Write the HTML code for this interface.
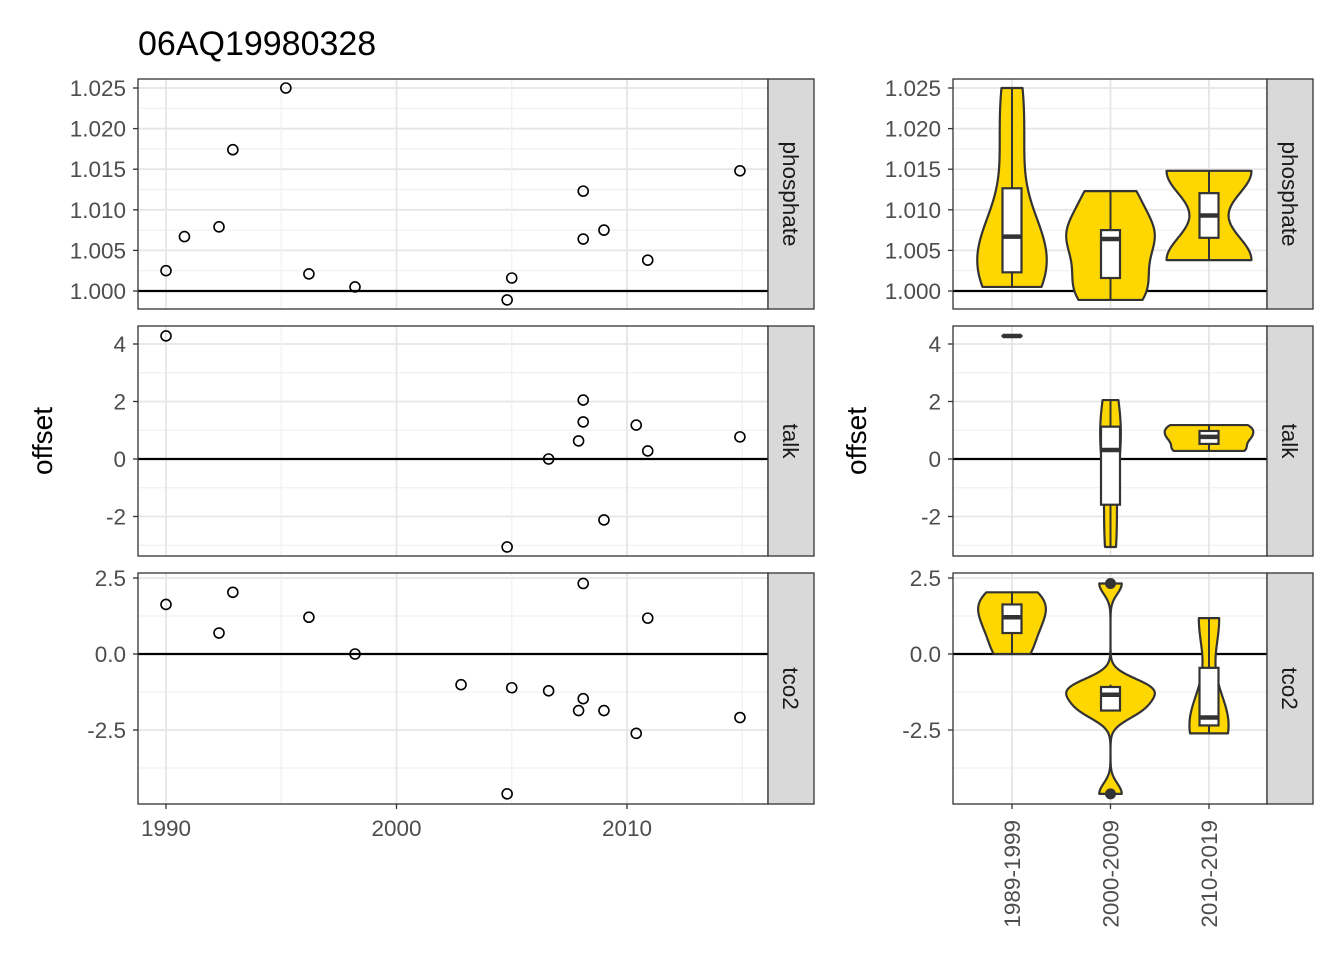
<!DOCTYPE html>
<html><head><meta charset="utf-8"><style>
html,body{margin:0;padding:0;background:#fff;}
svg text{font-family:"Liberation Sans",sans-serif;}
</style></head><body>
<svg id="chart" width="1344" height="960" viewBox="0 0 1344 960" xmlns="http://www.w3.org/2000/svg">
<text x="138" y="55" font-size="34" fill="#000">06AQ19980328</text>
<text transform="translate(52,441) rotate(-90)" text-anchor="middle" font-size="28" fill="#000">offset</text>
<text transform="translate(866,441) rotate(-90)" text-anchor="middle" font-size="28" fill="#000">offset</text>
</svg>
<script>
const phYears=[1990.0,1990.8,1992.3,1992.9,1995.2,1996.2,1998.2,2004.8,2005.0,2008.1,2008.1,2009.0,2010.9,2014.9];
const phVals=[1.0025,1.0067,1.0079,1.0174,1.025,1.0021,1.0005,0.9989,1.0016,1.0123,1.0064,1.0075,1.0038,1.0148];
const taYears=[1990.0,2008.1,2008.1,2007.9,2010.4,2006.6,2010.9,2014.9,2009.0,2004.8];
const taVals=[4.28,2.05,1.29,0.63,1.18,0.0,0.28,0.77,-2.12,-3.06];
const tcYears=[1990.0,1992.9,1992.3,1996.2,1998.2,2002.8,2005.0,2006.6,2008.1,2008.1,2007.9,2009.0,2010.9,2010.4,2014.9,2004.8];
const tcVals=[1.63,2.03,0.69,1.21,0.0,-1.01,-1.11,-1.21,2.32,-1.47,-1.86,-1.86,1.18,-2.61,-2.09,-4.6];
const decades=["1989-1999","2000-2009","2010-2019"];
const xTicks=[1990,2000,2010];
const phTicks=[1.000,1.005,1.010,1.015,1.020,1.025];
const phLabels=["1.000","1.005","1.010","1.015","1.020","1.025"];
const taTicks=[-2,0,2,4];
const taLabels=["-2","0","2","4"];
const tcTicks=[-2.5,0,2.5];
const tcLabels=["-2.5","0.0","2.5"];

const svg=document.getElementById('chart');
const NS='http://www.w3.org/2000/svg';
function mk(tag,attrs,parent){const e=document.createElementNS(NS,tag);for(const k in attrs)e.setAttribute(k,attrs[k]);(parent||svg).appendChild(e);return e;}

const LX0=138,LX1=768,RX0=953,RX1=1267;
const FS=22.5;
const xScale=yr=>166+(yr-1990)*(627-166)/20;
const catX=i=>1012+i*98.5;
const panels=[
 {name:'phosphate',years:phYears,vals:phVals,ticks:phTicks,labels:phLabels,top:79,bot:309,ref:1,y:v=>291-(v-1)*(291-88)/0.025,step:0.005},
 {name:'talk',years:taYears,vals:taVals,ticks:taTicks,labels:taLabels,top:326,bot:556,ref:0,y:v=>459-v*(459-344)/4,step:2},
 {name:'tco2',years:tcYears,vals:tcVals,ticks:tcTicks,labels:tcLabels,top:573,bot:804,ref:0,y:v=>654-v*(654-578)/2.5,step:2.5}
];
function decadeOf(yr){return yr<2000?0:(yr<2010?1:2);}
function quant(s,p){const h=(s.length-1)*p,lo=Math.floor(h),hi=Math.ceil(h);return s[lo]+(s[hi]-s[lo])*(h-lo);}
function sd(a){const m=a.reduce((x,y)=>x+y,0)/a.length;return Math.sqrt(a.reduce((x,y)=>x+(y-m)*(y-m),0)/(a.length-1));}
function bwNrd0(a){const s=[...a].sort((p,q)=>p-q);const iqr=quant(s,0.75)-quant(s,0.25);let lo=Math.min(sd(a),iqr/1.34);if(!(lo>0))lo=sd(a)||Math.abs(a[0])||1;return 0.9*lo*Math.pow(a.length,-0.2);}

panels.forEach((p,pi)=>{
 const g=mk('g',{});
 
 
 const clipId='clip'+pi;
 const cp=mk('clipPath',{id:clipId},g);
 mk('rect',{x:LX0,y:p.top,width:LX1-LX0,height:p.bot-p.top},cp);
 const cp2=mk('clipPath',{id:clipId+'r'},g);
 mk('rect',{x:RX0,y:p.top,width:RX1-RX0,height:p.bot-p.top},cp2);
 [[LX0,LX1],[RX0,RX1]].forEach(([a,b],side)=>{
  for(let t=p.ticks[0]-p.step*1.5;t<=p.ticks[p.ticks.length-1]+p.step*1.5;t+=p.step){
   const yy=p.y(t);if(yy>p.top&&yy<p.bot){const l=mk('line',{x1:a,x2:b,y1:yy,y2:yy,stroke:'#f0f0f0','stroke-width':1.2},g);}
  }
  p.ticks.forEach(t=>{const yy=p.y(t);const l=mk('line',{x1:a,x2:b,y1:yy,y2:yy,stroke:'#e6e6e6','stroke-width':1.8},g);});
 });
 [1995,2005,2015].forEach(t=>{const xx=xScale(t);const l=mk('line',{x1:xx,x2:xx,y1:p.top,y2:p.bot,stroke:'#f0f0f0','stroke-width':1.2},g);});
 xTicks.forEach(t=>{const xx=xScale(t);const l=mk('line',{x1:xx,x2:xx,y1:p.top,y2:p.bot,stroke:'#e6e6e6','stroke-width':1.8},g);});
 decades.forEach((d,i)=>{const xx=catX(i);const l=mk('line',{x1:xx,x2:xx,y1:p.top,y2:p.bot,stroke:'#e6e6e6','stroke-width':1.8},g);});
 [[LX0,LX1],[RX0,RX1]].forEach(([a,b])=>{const l=mk('line',{x1:a,x2:b,y1:p.y(p.ref),y2:p.y(p.ref),stroke:'#000','stroke-width':2.2},g);});
 const pts=mk('g',{'clip-path':'url(#'+clipId+')'},g);
 p.years.forEach((yr,i)=>{const c=mk('circle',{cx:xScale(yr),cy:p.y(p.vals[i]),r:5,fill:'none',stroke:'#000','stroke-width':1.6},pts);});
 const groups=[[],[],[]];
 p.years.forEach((yr,i)=>groups[decadeOf(yr)].push(p.vals[i]));
 const dens=groups.map(arr=>{
  if(arr.length<2)return null;
  const bw=bwNrd0(arr);const lo=Math.min(...arr),hi=Math.max(...arr);const out=[];
  for(let k=0;k<=200;k++){const v=lo+(hi-lo)*k/200;let s=0;arr.forEach(a=>{const z=(v-a)/bw;s+=Math.exp(-0.5*z*z);});out.push([v,s/(arr.length*bw*Math.sqrt(2*Math.PI))]);}
  return out;});
 let maxD=0;dens.forEach(d=>{if(d)d.forEach(q=>{if(q[1]>maxD)maxD=q[1];});});
 const vg=mk('g',{'clip-path':'url(#'+clipId+'r)'},g);
 groups.forEach((arr,i)=>{
  const cx=catX(i);
  if(dens[i]){
   const d=dens[i];let s='';
   d.forEach((q,k)=>{s+=(k?'L':'M')+(cx-q[1]/maxD*44.3).toFixed(2)+','+p.y(q[0]).toFixed(2);});
   for(let k=d.length-1;k>=0;k--){const q=d[k];s+='L'+(cx+q[1]/maxD*44.3).toFixed(2)+','+p.y(q[0]).toFixed(2);}
   s+='Z';
   const v=mk('path',{d:s,fill:'#FFD700',stroke:'#333','stroke-width':2.2,'stroke-linejoin':'round'},vg);
   
   
  }
  if(!arr.length)return;
  const srt=[...arr].sort((a,b)=>a-b);
  const q1=quant(srt,0.25),med=quant(srt,0.5),q3=quant(srt,0.75),iqr=q3-q1;
  const inl=srt.filter(v=>v>=q1-1.5*iqr&&v<=q3+1.5*iqr);
  const wl=inl[0],wh=inl[inl.length-1];
  const w=mk('line',{x1:cx,x2:cx,y1:p.y(wl),y2:p.y(wh),stroke:'#333','stroke-width':2},vg);
  
  const bx=mk('rect',{x:cx-9.5,y:p.y(q3),width:19,height:Math.max(0.01,p.y(q1)-p.y(q3)),fill:'#fff',stroke:'#333','stroke-width':2.2},vg);
  
  const m=mk('line',{x1:cx-9.5,x2:cx+9.5,y1:p.y(med),y2:p.y(med),stroke:'#333','stroke-width':4.5},vg);
  
  srt.filter(v=>v<wl||v>wh).forEach(v=>{const o=mk('circle',{cx:cx,cy:p.y(v),r:5.5,fill:'#333'},vg);});
 });
 [[LX0,LX1,'left'],[RX0,RX1,'right']].forEach(([a,b,side])=>{
  const r=mk('rect',{x:a,y:p.top,width:b-a,height:p.bot-p.top,fill:'none',stroke:'#333','stroke-width':1.3},g);
  
  p.ticks.forEach((t,k)=>{const yy=p.y(t);
   mk('line',{x1:a-5,x2:a,y1:yy,y2:yy,stroke:'#333','stroke-width':1.3},g);
   const tx=mk('text',{x:a-12,y:yy+8,'text-anchor':'end','font-size':FS,fill:'#4d4d4d'},g);tx.textContent=p.labels[k];
   });
  const st=mk('rect',{x:b,y:p.top,width:46,height:p.bot-p.top,fill:'#d9d9d9',stroke:'#333','stroke-width':1.3},g);
  
  const sl=mk('text',{transform:'translate('+(b+15)+','+((p.top+p.bot)/2)+') rotate(90)','text-anchor':'middle','font-size':FS,fill:'#1a1a1a'},g);
  sl.textContent=p.name;
 });
});
xTicks.forEach(t=>{const xx=xScale(t);mk('line',{x1:xx,x2:xx,y1:804,y2:809,stroke:'#333','stroke-width':1.3});
 const tx=mk('text',{x:xx,y:836,'text-anchor':'middle','font-size':FS,fill:'#4d4d4d'});tx.textContent=t;
 });
decades.forEach((d,i)=>{const xx=catX(i);mk('line',{x1:xx,x2:xx,y1:804,y2:809,stroke:'#333','stroke-width':1.3});
 const tx=mk('text',{transform:'translate('+(xx+8)+',820) rotate(-90)','text-anchor':'end','font-size':FS,fill:'#4d4d4d'});tx.textContent=d;
 });
</script>
</body></html>
